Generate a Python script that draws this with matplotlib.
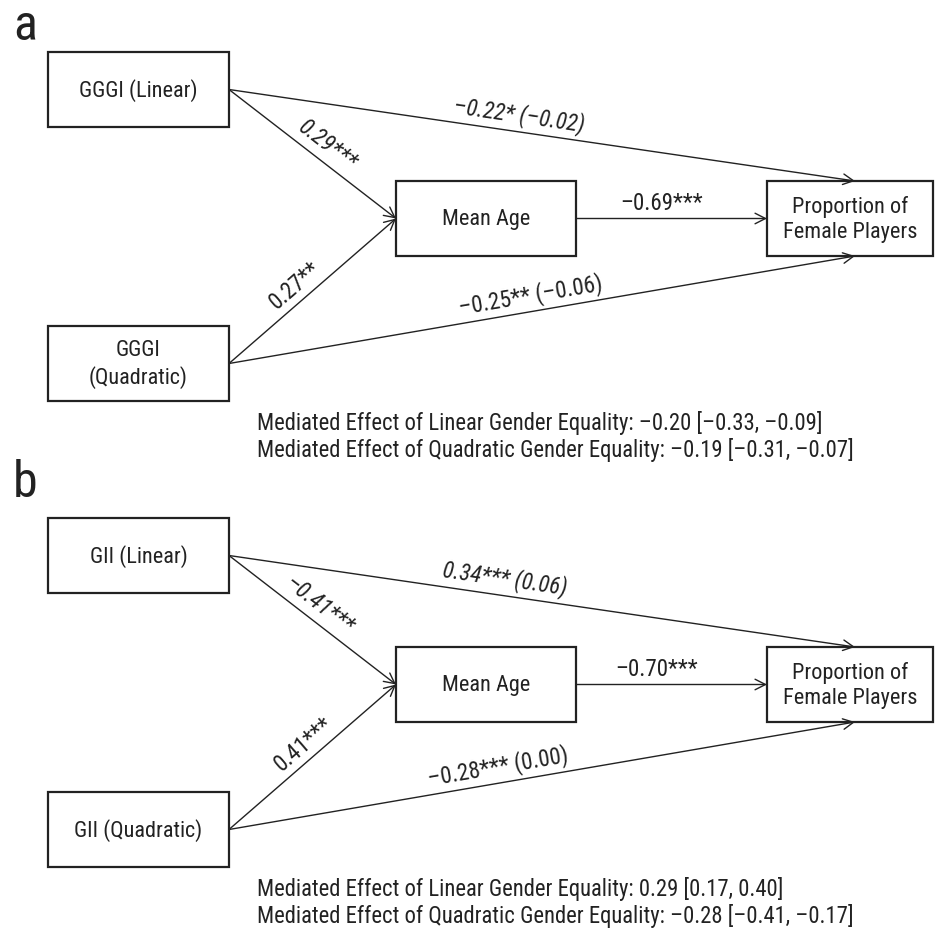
import numpy as np
import matplotlib
matplotlib.use("Agg")
import matplotlib.pyplot as plt
from matplotlib.patches import Rectangle, FancyArrowPatch

plt.rcParams['font.family'] = ['Roboto Condensed', 'Liberation Sans', 'DejaVu Sans']

# ---------------- data ----------------
panel_letters = ['a', 'b']
predictor_names = [['GGGI (Linear)', 'GGGI\n(Quadratic)'],
                   ['GII (Linear)', 'GII (Quadratic)']]
mediator_name = 'Mean Age'
outcome_name = 'Proportion of\nFemale Players'

# predictor -> mediator (a paths)
a_labels = [['0.29***', '0.27**'],
            ['\u20130.41***', '0.41***']]
# mediator -> outcome (b path)
b_labels = ['\u20130.69***', '\u20130.70***']
# predictor -> outcome (total effect, direct effect in parentheses)
c_labels = [['\u20130.22* (\u20130.02)', '\u20130.25** (\u20130.06)'],
            ['0.34*** (0.06)', '\u20130.28*** (0.00)']]
mediated_lines = [
    ['Mediated Effect of Linear Gender Equality: \u20130.20 [\u20130.33, \u20130.09]',
     'Mediated Effect of Quadratic Gender Equality: \u20130.19 [\u20130.31, \u20130.07]'],
    ['Mediated Effect of Linear Gender Equality: 0.29 [0.17, 0.40]',
     'Mediated Effect of Quadratic Gender Equality: \u20130.28 [\u20130.41, \u20130.17]'],
]

# ---------------- layout (pixel units) ----------------
W, H = 935, 937
panel_dy = [0, 466]
box_pred1 = (48, 53, 181, 75)   # x, y, w, h
box_pred2 = (48, 327, 181, 75)
box_med = (396, 182, 180, 75)
box_out = (767, 182, 166, 75)
out_arrow_x = 855
INK = '#222222'
FS = 16
FS_LAB = 16.5
FS_MED = 16.3

fig = plt.figure(figsize=(W / 100, H / 100), dpi=100)
ax = fig.add_axes([0, 0, 1, 1])
ax.set_xlim(0, W)
ax.set_ylim(H, 0)
ax.axis('off')


def draw_box(b, dy, text):
    x, y, w, h = b
    ax.add_patch(Rectangle((x, y + dy), w, h, fill=False, ec=INK, lw=1.6))
    ax.text(x + w / 2, y + dy + h / 2, text, ha='center', va='center',
            fontsize=FS, color=INK, linespacing=1.25)


def arrow(p0, p1):
    ax.add_patch(FancyArrowPatch(p0, p1, arrowstyle='->,head_length=0.75,head_width=0.38',
                                 mutation_scale=10, lw=1.0, color=INK,
                                 shrinkA=0, shrinkB=0))


def line_label(p0, p1, t, text, italic, off=5):
    x0, y0 = p0
    x1, y1 = p1
    dx, dy = x1 - x0, y1 - y0
    L = np.hypot(dx, dy)
    ux, uy = dx / L, dy / L
    nx, ny = uy, -ux
    if ny > 0:
        nx, ny = -nx, -ny
    px = x0 + t * dx + off * nx
    py = y0 + t * dy + off * ny
    ang = np.degrees(np.arctan2(-dy, dx))
    ax.text(px, py, text, rotation=ang, rotation_mode='anchor', ha='center', va='bottom',
            fontsize=FS_LAB, color=INK, style='italic' if italic else 'normal')


a_t = [[0.53, 0.46], [0.48, 0.51]]
c_t = [[0.46, 0.486], [0.436, 0.435]]
b_t = [0.45, 0.42]

for i, dy in enumerate(panel_dy):
    ax.text(13, 40 + (457 if i else 0), panel_letters[i], fontsize=36, color=INK,
            ha='left', va='baseline')
    draw_box(box_pred1, dy, predictor_names[i][0])
    draw_box(box_pred2, dy, predictor_names[i][1])
    draw_box(box_med, dy, mediator_name)
    draw_box(box_out, dy, outcome_name)

    p1 = (box_pred1[0] + box_pred1[2], box_pred1[1] + box_pred1[3] / 2 + dy)
    p2 = (box_pred2[0] + box_pred2[2], box_pred2[1] + box_pred2[3] / 2 + dy)
    m_in = (box_med[0], box_med[1] + box_med[3] / 2 + dy)
    m_out = (box_med[0] + box_med[2], box_med[1] + box_med[3] / 2 + dy)
    o_in = (box_out[0], box_out[1] + box_out[3] / 2 + dy)
    o_top = (out_arrow_x, box_out[1] + dy)
    o_bot = (out_arrow_x, box_out[1] + box_out[3] + dy)

    arrow(p1, m_in)
    arrow(p2, m_in)
    arrow(m_out, o_in)
    arrow(p1, o_top)
    arrow(p2, o_bot)

    line_label(p1, m_in, a_t[i][0], a_labels[i][0], True)
    line_label(p2, m_in, a_t[i][1], a_labels[i][1], False)
    line_label(m_out, o_in, b_t[i], b_labels[i], False, off=4)
    line_label(p1, o_top, c_t[i][0], c_labels[i][0], True)
    line_label(p2, o_bot, c_t[i][1], c_labels[i][1], False)

    ax.text(257, 423 + dy, mediated_lines[i][0], fontsize=FS_MED, color=INK, ha='left', va='center')
    ax.text(257, 450 + dy, mediated_lines[i][1], fontsize=FS_MED, color=INK, ha='left', va='center')

fig.savefig('out.png', dpi=100)
